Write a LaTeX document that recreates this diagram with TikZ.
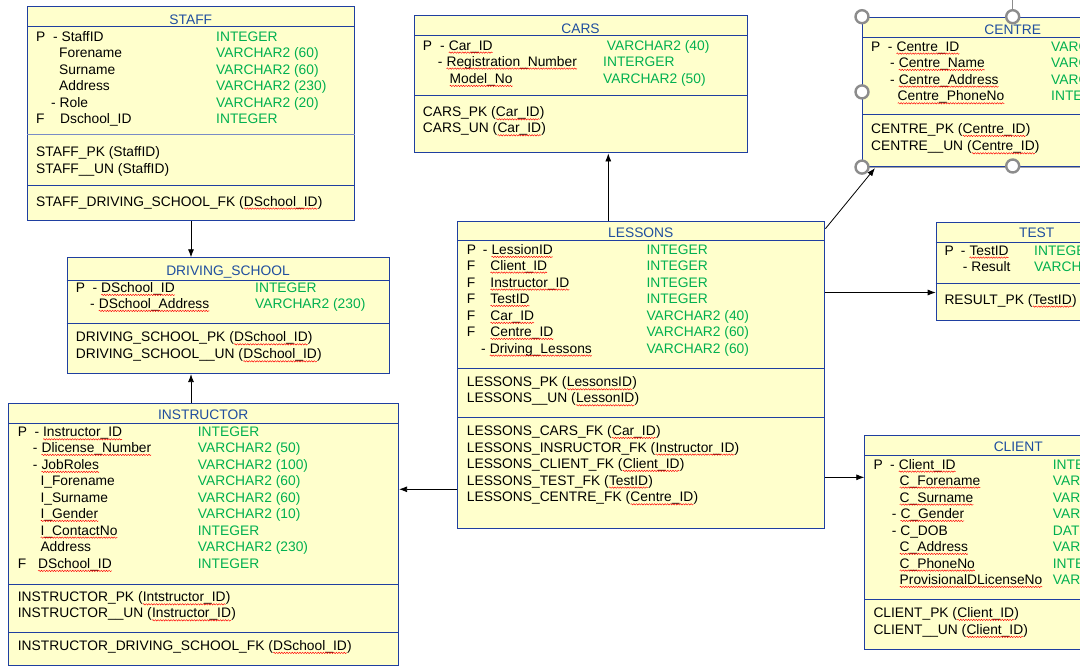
\documentclass[tikz,border=0pt]{standalone}
\usepackage{fontspec}
\setmainfont{Liberation Sans}
\usetikzlibrary{arrows.meta,decorations.pathmorphing}
\definecolor{bfill}{HTML}{FFFFCC}
\definecolor{bline}{HTML}{1F3FA0}
\definecolor{ttlc}{HTML}{1F4E9F}
\definecolor{tgreen}{HTML}{00B050}
\definecolor{hgray}{HTML}{8C8C8C}
\newcommand\sq[1]{\tikz[baseline=(sqw.base)]{\node[inner sep=0pt,outer sep=0pt,anchor=base] (sqw) {#1};\draw[red,line width=0.45pt,decorate,decoration={snake,amplitude=0.7pt,segment length=2.6pt}] ([yshift=-2.6pt]sqw.base west) -- ([yshift=-2.6pt]sqw.base east);}}
\newcommand\A[4]{\node[txt] (#1) at (#2,#3) {#4};}
\newcommand\T[4]{\node[typ] (#1) at (#2,#3) {#4};}
\tikzset{
  tbl/.style={draw=bline,fill=bfill,line width=1.1pt,inner sep=0pt,anchor=north west},
  sepl/.style={draw=bline,line width=1.1pt},
  txt/.style={anchor=base west,inner sep=0pt,yshift=-5pt,text=black,font=\fontsize{13.8}{16.5}\selectfont},
  typ/.style={txt,text=tgreen},
  ttl/.style={anchor=base,inner sep=0pt,yshift=-5pt,text=ttlc,font=\fontsize{13.8}{16.5}\selectfont},
  arr/.style={draw=black,line width=0.8pt,-{Latex[length=8pt,width=6pt]}},
  hdl/.style={draw=hgray,fill=white,line width=2.4pt}
}
\begin{document}
\begin{tikzpicture}[x=1pt,y=-1pt]
\useasboundingbox (0,0) rectangle (1080,670);
\clip (0,0) rectangle (1080,670);
\fill[white] (0,0) rectangle (1080,670);

% ---------------- STAFF
\node[tbl,minimum width=327pt,minimum height=213.7pt] (staff) at (27.3,6.3) {};
\draw[sepl] (staff.west |- 0,26.3) -- (staff.east |- 0,26.3);
\draw[sepl,draw=bline!60] (staff.west |- 0,134.7) -- (staff.east |- 0,134.7);
\draw[sepl] (staff.west |- 0,185.3) -- (staff.east |- 0,185.3);
\node[ttl] (staffT) at (190.8,19.3) {STAFF};
\A{s1p}{36}{36}{P}\A{s1n}{53}{36}{- StaffID}\T{s1t}{216}{36}{INTEGER}
\A{s2n}{59}{52.3}{Forename}\T{s2t}{216}{52.3}{VARCHAR2 (60)}
\A{s3n}{59}{69}{Surname}\T{s3t}{216}{69}{VARCHAR2 (60)}
\A{s4n}{59}{85.3}{Address}\T{s4t}{216}{85.3}{VARCHAR2 (230)}
\A{s5n}{51}{102}{- Role}\T{s5t}{216}{102}{VARCHAR2 (20)}
\A{s6p}{36}{118}{F}\A{s6n}{60}{118}{Dschool\_ID}\T{s6t}{216}{118}{INTEGER}
\A{sk1}{36}{151.7}{STAFF\_PK (StaffID)}
\A{sk2}{36}{168.3}{STAFF\_\_UN (StaffID)}
\A{sk3}{36}{201}{STAFF\_DRIVING\_SCHOOL\_FK (\sq{DSchool\_ID})}

% ---------------- CARS
\node[tbl,minimum width=332.4pt,minimum height=137pt] (cars) at (414.3,15.3) {};
\draw[sepl] (cars.west |- 0,35.3) -- (cars.east |- 0,35.3);
\draw[sepl] (cars.west |- 0,95.3) -- (cars.east |- 0,95.3);
\node[ttl] (carsT) at (580.5,28.3) {CARS};
\A{c1p}{422.7}{45}{P}\A{c1n}{440}{45}{- \sq{Car\_ID}}\T{c1t}{606.7}{45}{VARCHAR2 (40)}
\A{c2n}{437.7}{61}{- \sq{Registration\_Number}}\T{c2t}{603}{61}{INTERGER}
\A{c3n}{449.3}{78.3}{\sq{Model\_No}}\T{c3t}{603}{78.3}{VARCHAR2 (50)}
\A{ck1}{422.7}{111.7}{CARS\_PK (\sq{Car\_ID})}
\A{ck2}{422.7}{127.7}{CARS\_UN (\sq{Car\_ID})}

% ---------------- CENTRE
\node[tbl,minimum width=301.4pt,minimum height=149.3pt] (centre) at (862,16.7) {};
\draw[sepl] (centre.west |- 0,37.7) -- (centre.east |- 0,37.7);
\draw[sepl] (centre.west |- 0,114.3) -- (centre.east |- 0,114.3);
\draw[hgray!80,line width=1.1pt] (centre.south west) -- (centre.south east);
\node[ttl] (centreT) at (1012.7,29.3) {CENTRE};
\A{e1p}{871}{46}{P}\A{e1n}{887.7}{46}{- \sq{Centre\_ID}}\T{e1t}{1051}{46}{VARCHAR2 (60)}
\A{e2n}{890}{62.3}{- \sq{Centre\_Name}}\T{e2t}{1051}{62.3}{VARCHAR2 (60)}
\A{e3n}{890}{79}{- \sq{Centre\_Address}}\T{e3t}{1051}{79}{VARCHAR2 (230)}
\A{e4n}{897.3}{95.7}{\sq{Centre\_PhoneNo}}\T{e4t}{1051}{95.7}{INTEGER}
\A{ek1}{871}{128.3}{CENTRE\_PK (\sq{Centre\_ID})}
\A{ek2}{871}{145.7}{CENTRE\_\_UN (\sq{Centre\_ID})}
\draw[hgray,line width=1pt] (1012.7,0) -- (1012.7,10);
\draw[hdl] (centre.north west) circle[radius=6.5pt];
\draw[hdl] (1012.7,16.7) circle[radius=6.5pt];
\draw[hdl] (centre.west) circle[radius=6.5pt];
\draw[hdl] (centre.south west) circle[radius=6.5pt];
\draw[hdl] (1012.7,166) circle[radius=6.5pt];

% ---------------- TEST
\node[tbl,minimum width=202pt,minimum height=98.3pt] (test) at (935.7,221.7) {};
\draw[sepl] (test.west |- 0,242.3) -- (test.east |- 0,242.3);
\draw[sepl] (test.west |- 0,283.3) -- (test.east |- 0,283.3);
\node[ttl] (testT) at (1036.7,232.7) {TEST};
\A{t1p}{944.3}{250}{P}\A{t1n}{960.7}{250}{- \sq{TestID}}\T{t1t}{1034}{250}{INTEGER}
\A{t2n}{962.7}{266}{- Result}\T{t2t}{1034}{266}{VARCHAR2 (20)}
\A{tk1}{944.3}{299}{RESULT\_PK (\sq{TestID})}

% ---------------- DRIVING_SCHOOL
\node[tbl,minimum width=322.6pt,minimum height=115.7pt] (ds) at (66.7,257.3) {};
\draw[sepl] (ds.west |- 0,280.3) -- (ds.east |- 0,280.3);
\draw[sepl] (ds.west |- 0,323.3) -- (ds.east |- 0,323.3);
\node[ttl] (dsT) at (228,270.7) {DRIVING\_SCHOOL};
\A{d1p}{75.7}{287.3}{P}\A{d1n}{92.3}{287.3}{- \sq{DSchool\_ID}}\T{d1t}{255}{287.3}{INTEGER}
\A{d2n}{90}{303.3}{- \sq{DSchool\_Address}}\T{d2t}{255}{303.3}{VARCHAR2 (230)}
\A{dk1}{75.7}{336.7}{DRIVING\_SCHOOL\_PK (\sq{DSchool\_ID})}
\A{dk2}{75.7}{353.7}{DRIVING\_SCHOOL\_\_UN (\sq{DSchool\_ID})}

% ---------------- INSTRUCTOR
\node[tbl,minimum width=389.7pt,minimum height=262.6pt] (instr) at (8.3,402.7) {};
\draw[sepl] (instr.west |- 0,423.3) -- (instr.east |- 0,423.3);
\draw[sepl] (instr.west |- 0,584.3) -- (instr.east |- 0,584.3);
\draw[sepl] (instr.west |- 0,632.7) -- (instr.east |- 0,632.7);
\node[ttl] (instrT) at (203.2,414.3) {INSTRUCTOR};
\A{i1p}{17.7}{431.7}{P}\A{i1n}{34.3}{431.7}{- \sq{Instructor\_ID}}\T{i1t}{197.7}{431.7}{INTEGER}
\A{i2n}{32.7}{447.3}{- \sq{Dlicense\_Number}}\T{i2t}{197.7}{447.3}{VARCHAR2 (50)}
\A{i3n}{32.7}{464.3}{- \sq{JobRoles}}\T{i3t}{197.7}{464.3}{VARCHAR2 (100)}
\A{i4n}{40.3}{480.3}{I\_Forename}\T{i4t}{197.7}{480.3}{VARCHAR2 (60)}
\A{i5n}{40.3}{497}{I\_Surname}\T{i5t}{197.7}{497}{VARCHAR2 (60)}
\A{i6n}{40.3}{513.3}{\sq{I\_Gender}}\T{i6t}{197.7}{513.3}{VARCHAR2 (10)}
\A{i7n}{40.3}{530}{\sq{I\_ContactNo}}\T{i7t}{197.7}{530}{INTEGER}
\A{i8n}{40.3}{546.3}{Address}\T{i8t}{197.7}{546.3}{VARCHAR2 (230)}
\A{i9p}{17.7}{563.3}{F}\A{i9n}{37.7}{563.3}{\sq{DSchool\_ID}}\T{i9t}{197.7}{563.3}{INTEGER}
\A{ik1}{17.7}{596.7}{INSTRUCTOR\_PK (\sq{Intstructor\_ID})}
\A{ik2}{17.7}{612.7}{INSTRUCTOR\_\_UN (\sq{Instructor\_ID})}
\A{ik3}{17.7}{645.3}{INSTRUCTOR\_DRIVING\_SCHOOL\_FK (\sq{DSchool\_ID})}

% ---------------- LESSONS
\node[tbl,minimum width=367pt,minimum height=307.6pt] (les) at (457.3,220.7) {};
\draw[sepl] (les.west |- 0,240.7) -- (les.east |- 0,240.7);
\draw[sepl] (les.west |- 0,368.7) -- (les.east |- 0,368.7);
\draw[sepl] (les.west |- 0,417.3) -- (les.east |- 0,417.3);
\node[ttl] (lesT) at (640.8,232) {LESSONS};
\A{l1p}{466.7}{249.3}{P}\A{l1n}{482.7}{249.3}{- \sq{LessionID}}\T{l1t}{646.3}{249.3}{INTEGER}
\A{l2p}{466.7}{265}{F}\A{l2n}{490}{265}{\sq{Client\_ID}}\T{l2t}{646.3}{265}{INTEGER}
\A{l3p}{466.7}{282}{F}\A{l3n}{490}{282}{\sq{Instructor\_ID}}\T{l3t}{646.3}{282}{INTEGER}
\A{l4p}{466.7}{298.3}{F}\A{l4n}{490}{298.3}{\sq{TestID}}\T{l4t}{646.3}{298.3}{INTEGER}
\A{l5p}{466.7}{315.3}{F}\A{l5n}{490}{315.3}{\sq{Car\_ID}}\T{l5t}{646.3}{315.3}{VARCHAR2 (40)}
\A{l6p}{466.7}{331.3}{F}\A{l6n}{490}{331.3}{\sq{Centre\_ID}}\T{l6t}{646.3}{331.3}{VARCHAR2 (60)}
\A{l7n}{481}{348}{- \sq{Driving\_Lessons}}\T{l7t}{646.3}{348}{VARCHAR2 (60)}
\A{lk1}{466.7}{381.7}{LESSONS\_PK (\sq{LessonsID})}
\A{lk2}{466.7}{397.7}{LESSONS\_\_UN (\sq{LessonID})}
\A{lf1}{466.7}{430.3}{LESSONS\_CARS\_FK (\sq{Car\_ID})}
\A{lf2}{466.7}{447}{LESSONS\_INSRUCTOR\_FK (\sq{Instructor\_ID})}
\A{lf3}{466.7}{463.3}{LESSONS\_CLIENT\_FK (\sq{Client\_ID})}
\A{lf4}{466.7}{480}{LESSONS\_TEST\_FK (\sq{TestID})}
\A{lf5}{466.7}{496.7}{LESSONS\_CENTRE\_FK (\sq{Centre\_ID})}

% ---------------- CLIENT
\node[tbl,minimum width=308pt,minimum height=214pt] (client) at (864.3,435.3) {};
\draw[sepl] (client.west |- 0,455.3) -- (client.east |- 0,455.3);
\draw[sepl] (client.west |- 0,599.3) -- (client.east |- 0,599.3);
\node[ttl] (clientT) at (1018.3,446.7) {CLIENT};
\A{k1p}{873.3}{464}{P}\A{k1n}{890}{464}{- \sq{Client\_ID}}\T{k1t}{1052.7}{464}{INTEGER}
\A{k2n}{899.3}{480}{\sq{C\_Forename}}\T{k2t}{1052.7}{480}{VARCHAR2 (60)}
\A{k3n}{899.3}{497}{\sq{C\_Surname}}\T{k3t}{1052.7}{497}{VARCHAR2 (60)}
\A{k4n}{891.7}{513.3}{- \sq{C\_Gender}}\T{k4t}{1052.7}{513.3}{VARCHAR2 (10)}
\A{k5n}{891.7}{530}{- C\_DOB}\T{k5t}{1052.7}{530}{DATE}
\A{k6n}{899.3}{546.3}{\sq{C\_Address}}\T{k6t}{1052.7}{546.3}{VARCHAR2 (230)}
\A{k7n}{899.3}{563}{\sq{C\_PhoneNo}}\T{k7t}{1052.7}{563}{INTEGER}
\A{k8n}{899.3}{579.3}{\sq{ProvisionalDLicenseNo}}\T{k8t}{1052.7}{579.3}{VARCHAR2 (50)}
\A{kk1}{873.3}{612.3}{CLIENT\_PK (\sq{Client\_ID})}
\A{kk2}{873.3}{629.3}{CLIENT\_\_UN (\sq{Client\_ID})}

% ---------------- connectors
\draw[arr] (191,0 |- staff.south) -- (191,0 |- ds.north);
\draw[arr] (191,0 |- instr.north) -- (191,0 |- ds.south);
\draw[arr] (608.3,0 |- les.north) -- (608.3,0 |- cars.south);
\draw[arr] (les.west |- 0,489.3) -- (instr.east |- 0,489.3);
\draw[arr] (les.east |- 0,292.5) -- (test.west |- 0,292.5);
\draw[arr] (les.east |- 0,477.3) -- (client.west |- 0,477.3);
\draw[arr] ([yshift=-8pt]les.north east) -- ([xshift=13pt,yshift=-1pt]centre.south west);
\end{tikzpicture}
\end{document}
